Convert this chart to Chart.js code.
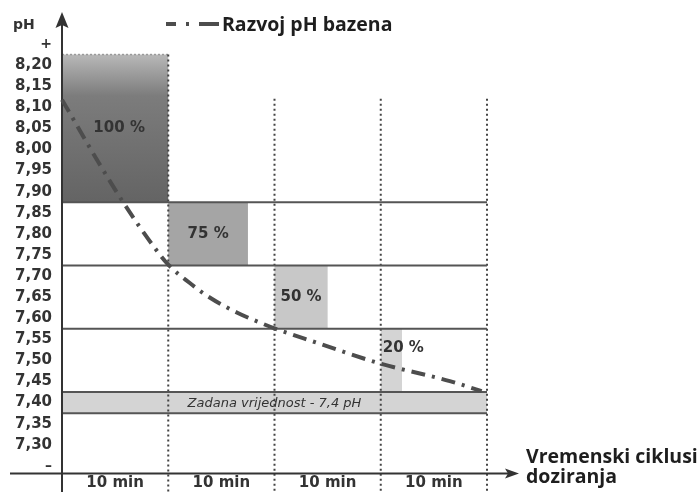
<!DOCTYPE html>
<html>
<head>
<meta charset="utf-8">
<script src="https://cdn.jsdelivr.net/npm/chart.js@4.4.1/dist/chart.umd.min.js"></script>
<style>
  html, body { margin: 0; padding: 0; background: #fff; }
  #wrap { width: 699px; height: 492px; }
</style>
</head>
<body>
<div id="wrap"><canvas id="phChart" width="699" height="492"></canvas></div>
<script>
// Ciklusi doziranja (os X)
const cycleLabels = ['10 min', '10 min', '10 min', '10 min'];

// Oznake osi pH
const yTickValues = [8.25, 8.20, 8.15, 8.10, 8.05, 8.00, 7.95, 7.90, 7.85, 7.80, 7.75,
  7.70, 7.65, 7.60, 7.55, 7.50, 7.45, 7.40, 7.35, 7.30, 7.25];
const yTickLabels = ['+', '8,20', '8,15', '8,10', '8,05', '8,00', '7,95', '7,90', '7,85', '7,80', '7,75',
  '7,70', '7,65', '7,60', '7,55', '7,50', '7,45', '7,40', '7,35', '7,30', '–'];

// Doziranje po ciklusu: udio ciklusa i pH raspon
const doseLabels = ['100 %', '75 %', '50 %', '20 %'];
const doseShare = [100, 75, 50, 20];
const doseHigh = [8.225, 7.875, 7.725, 7.575];
const doseLow = [7.875, 7.725, 7.575, 7.425];

// Granice pH zona
const zoneLevels = [7.875, 7.725, 7.575];

// Zadana vrijednost
const setpointLow = 7.375;
const setpointHigh = 7.425;
const setpointText = 'Zadana vrijednost - 7,4 pH';

// Razvoj pH bazena kroz vrijeme (u ciklusima)
const phTime = [0, 0.34, 0.57, 0.875, 1, 1.2, 1.39, 1.65, 1.86, 2, 2.36, 2.99, 3.65, 3.95];
const phValue = [8.118, 7.971, 7.877, 7.766, 7.727, 7.684, 7.649, 7.613, 7.590, 7.576, 7.545, 7.493, 7.451, 7.427];

const seriesLabel = 'Razvoj pH bazena';
const xTitle = ['Vremenski ciklusi', 'doziranja'];

const INK = '#333333';
const TICK_FONT = "bold 15px 'DejaVu Sans', Verdana, sans-serif";
const TITLE_FONT = "bold 19.5px 'Open Sans', sans-serif";
const PH_DASH = [14, 7, 3, 7];
const CYCLE_LINE_TOP = 8.12; // gornji kraj točkastih linija ciklusa

/** Crtanje zona, traka doziranja, osi i natpisa */
const decorPlugin = {
  id: 'decor',
  beforeDatasetsDraw(chart) {
    const { ctx, scales: { x, y } } = chart;
    const bottom = chart.height;
    ctx.save();

    // Trake doziranja
    doseShare.forEach((share, i) => {
      const x0 = x.getPixelForValue(i);
      const x1 = x.getPixelForValue(i + share / 100);
      const y0 = y.getPixelForValue(doseHigh[i]);
      const y1 = y.getPixelForValue(doseLow[i]);
      let fill = ['#6a6a6a', '#a5a5a5', '#c8c8c8', '#d4d4d4'][i];
      if (i === 0) {
        const g = ctx.createLinearGradient(0, y0, 0, y1);
        g.addColorStop(0, '#b8b8b8');
        g.addColorStop(0.28, '#7c7c7c');
        g.addColorStop(1, '#646464');
        fill = g;
      }
      ctx.fillStyle = fill;
      ctx.fillRect(x0, y0, x1 - x0, y1 - y0);
    });

    // Gornji rub trake 100 %
    ctx.setLineDash([2, 2]);
    ctx.strokeStyle = '#9a9a9a';
    ctx.lineWidth = 1.5;
    ctx.beginPath();
    ctx.moveTo(x.getPixelForValue(0), y.getPixelForValue(doseHigh[0]));
    ctx.lineTo(x.getPixelForValue(1), y.getPixelForValue(doseHigh[0]));
    ctx.stroke();

    // Zadana vrijednost
    const sTop = y.getPixelForValue(setpointHigh);
    const sBot = y.getPixelForValue(setpointLow);
    const xL = x.getPixelForValue(0);
    const xR = x.getPixelForValue(cycleLabels.length);
    ctx.fillStyle = '#d4d4d4';
    ctx.fillRect(xL, sTop, xR - xL, sBot - sTop);

    // Točkaste linije ciklusa
    ctx.setLineDash([2, 3]);
    ctx.strokeStyle = '#444';
    ctx.lineWidth = 2;
    for (let i = 1; i <= cycleLabels.length; i++) {
      const px = x.getPixelForValue(i);
      const top = y.getPixelForValue(i === 1 ? doseHigh[0] : CYCLE_LINE_TOP);
      ctx.beginPath();
      ctx.moveTo(px, top);
      ctx.lineTo(px, bottom);
      ctx.stroke();
    }

    // Pune linije granica zona
    ctx.setLineDash([]);
    ctx.strokeStyle = '#555';
    ctx.lineWidth = 2;
    [...zoneLevels, setpointHigh, setpointLow].forEach(v => {
      const py = y.getPixelForValue(v);
      ctx.beginPath();
      ctx.moveTo(xL, py);
      ctx.lineTo(xR, py);
      ctx.stroke();
    });

    // Natpis zadane vrijednosti
    ctx.fillStyle = INK;
    ctx.font = "italic 13px 'DejaVu Sans', sans-serif";
    ctx.textAlign = 'center';
    ctx.textBaseline = 'middle';
    ctx.fillText(setpointText, (xL + xR) / 2, (sTop + sBot) / 2 + 1);

    // Osi sa strelicama
    const ax = x.getPixelForValue(0);
    const ay = y.getPixelForValue(y.min);
    ctx.strokeStyle = INK;
    ctx.fillStyle = INK;
    ctx.lineWidth = 2;
    ctx.beginPath();
    ctx.moveTo(ax, bottom);
    ctx.lineTo(ax, 22);
    ctx.moveTo(10, ay);
    ctx.lineTo(510, ay);
    ctx.stroke();
    ctx.beginPath();
    ctx.moveTo(ax, 12);
    ctx.lineTo(ax - 6.5, 28);
    ctx.lineTo(ax, 25);
    ctx.lineTo(ax + 6.5, 28);
    ctx.closePath();
    ctx.fill();
    ctx.beginPath();
    ctx.moveTo(519, ay);
    ctx.lineTo(505, ay - 5);
    ctx.lineTo(508, ay);
    ctx.lineTo(505, ay + 5);
    ctx.closePath();
    ctx.fill();
    ctx.restore();
  },

  afterDatasetsDraw(chart) {
    const { ctx, scales: { x, y } } = chart;
    ctx.save();
    ctx.fillStyle = INK;
    ctx.font = TICK_FONT;
    ctx.textBaseline = 'middle';
    doseLabels.forEach((label, i) => {
      const x0 = x.getPixelForValue(i);
      const x1 = x.getPixelForValue(i + doseShare[i] / 100);
      const w = ctx.measureText(label).width;
      if (w + 6 < x1 - x0) {
        ctx.textAlign = 'center';
        ctx.fillText(label, (x0 + x1) / 2 + (i === 0 ? 4 : 0), y.getPixelForValue((doseHigh[i] + doseLow[i]) / 2));
      } else {
        // uska traka: natpis iz lijevog ruba, u gornjem dijelu zone
        ctx.textAlign = 'left';
        const v = doseHigh[i] - (doseHigh[i] - doseLow[i]) * 0.3;
        ctx.fillText(label, x0 + 2, y.getPixelForValue(v));
      }
    });
    ctx.restore();
  },

  afterDraw(chart) {
    const { ctx } = chart;
    const ds = chart.data.datasets[0];
    ctx.save();

    // Oznaka osi pH
    ctx.fillStyle = INK;
    ctx.font = "bold 14px 'DejaVu Sans', sans-serif";
    ctx.textAlign = 'left';
    ctx.textBaseline = 'alphabetic';
    ctx.fillText('pH', 13, 29);

    // Legenda
    ctx.strokeStyle = ds.borderColor;
    ctx.lineWidth = ds.borderWidth;
    ctx.setLineDash([10, 10, 3, 10, 20]);
    ctx.beginPath();
    ctx.moveTo(166, 24);
    ctx.lineTo(219, 24);
    ctx.stroke();
    ctx.setLineDash([]);
    ctx.fillStyle = '#1e1e1e';
    ctx.font = TITLE_FONT;
    ctx.fillText(seriesLabel, 222, 31);

    // Naslov osi X
    ctx.fillText(xTitle[0], 526, 463);
    ctx.fillText(xTitle[1], 526, 483);
    ctx.restore();
  },
};

const isEndTick = i => i === 0 || i === yTickValues.length - 1;

new Chart(document.getElementById('phChart'), {
  type: 'line',
  data: {
    datasets: [{
      label: seriesLabel,
      data: phTime.map((t, i) => ({ x: t, y: phValue[i] })),
      borderColor: '#4d4d4d',
      borderWidth: 4,
      borderDash: PH_DASH,
      borderCapStyle: 'butt',
      pointRadius: 0,
      cubicInterpolationMode: 'monotone',
      clip: false,
    }],
  },
  options: {
    responsive: false,
    animation: false,
    events: [],
    layout: { padding: { top: 16, right: 212, left: 0, bottom: 0 } },
    plugins: {
      legend: { display: false },
      tooltip: { enabled: false },
    },
    scales: {
      x: {
        type: 'linear',
        min: 0,
        max: cycleLabels.length,
        grid: { display: false, drawTicks: false },
        border: { display: false },
        afterBuildTicks: s => { s.ticks = cycleLabels.map((_, i) => ({ value: i + 0.5 })); },
        afterFit: s => { s.height = 18; },
        ticks: {
          autoSkip: false,
          maxRotation: 0,
          padding: 1,
          color: INK,
          font: { family: "'DejaVu Sans', Verdana, sans-serif", size: 15, weight: 'bold' },
          callback: (v, i) => cycleLabels[i],
        },
      },
      y: {
        min: 7.2317,
        max: 8.3107,
        grid: { display: false, drawTicks: false },
        border: { display: false },
        afterBuildTicks: s => { s.ticks = yTickValues.map(v => ({ value: v })); },
        afterFit: s => { s.width = 62; },
        ticks: {
          autoSkip: false,
          padding: 10,
          color: INK,
          font: ctx => ({
            family: "'DejaVu Sans', Verdana, sans-serif",
            size: isEndTick(ctx.index) ? 14 : 15,
            weight: 'bold',
          }),
          callback: (v, i) => yTickLabels[i],
        },
      },
    },
  },
  plugins: [decorPlugin],
});
</script>
</body>
</html>
